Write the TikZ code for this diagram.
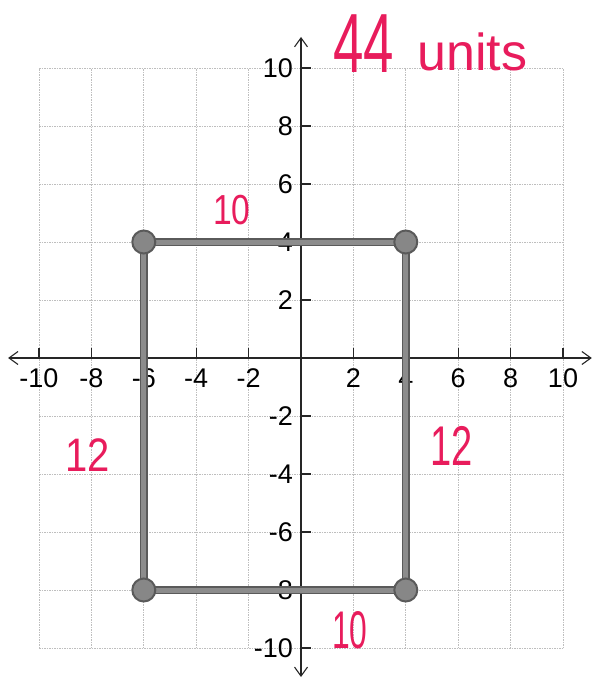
\documentclass[tikz,border=0pt]{standalone}
\usepackage{fontspec}
\setmainfont{Liberation Sans}
\usetikzlibrary{arrows.meta}
\definecolor{pen}{RGB}{232,28,92}
\definecolor{gridgray}{RGB}{190,190,190}
\definecolor{edgedark}{RGB}{90,90,90}
\definecolor{edgelight}{RGB}{140,140,140}
\definecolor{dotfill}{RGB}{135,135,135}
\begin{document}
\begin{tikzpicture}[x=26.2pt,y=29pt,
  gridline/.style={gridgray, line width=0.7pt, dash pattern=on 1.5pt off 1pt},
  axisline/.style={black!85, line width=1.1pt, arrows={Straight Barb[length=9pt,width=13pt]-Straight Barb[length=9pt,width=13pt]}},
  tickmark/.style={black!85, line width=1.1pt},
  xlab/.style={anchor=base, inner sep=0pt, font=\fontsize{27}{27}\selectfont},
  ylab/.style={anchor=east, inner sep=0pt, font=\fontsize{27}{27}\selectfont},
  rectdark/.style={edgedark, line width=8pt, line join=round},
  rectlight/.style={edgelight, line width=5pt, line join=round},
  vertex/.style={circle, fill=dotfill, draw=edgedark, line width=2pt, minimum size=23pt, inner sep=0pt},
  hand/.style={pen, anchor=base west, inner sep=0pt}
]
\useasboundingbox (-11.489,12.345) rectangle (11.107,-11.069);
% grid
\foreach \v in {-10,-8,-6,-4,-2,0,2,4,6,8,10} {
  \draw[gridline] (\v,-10) -- (\v,10);
  \draw[gridline] (-10,\v) -- (10,\v);
}
% axes
\coordinate (xl) at (-11.18,0);
\coordinate (xr) at (11.1,0);
\coordinate (yt) at (0,11.07);
\coordinate (yb) at (0,-11.0);
\draw[axisline] (xl) -- (xr);
\draw[axisline] (yb) -- (yt);
% ticks and labels
\foreach \v in {-10,-8,-6,-4,-2,2,4,6,8,10} {
  \draw[tickmark] (\v,0) -- ++(0,0.35);
  \draw[tickmark] (0,\v) -- ++(0.38,0);
  \node[xlab] (xl\v) at (\v,-1.0) {\v};
  \node[ylab] (yl\v) at (-0.3,\v) {\v};
}
% rectangle
\coordinate (A) at (-6,4);
\coordinate (B) at (4,4);
\coordinate (C) at (4,-8);
\coordinate (D) at (-6,-8);
\draw[rectdark] (A) -- (B) -- (C) -- (D) -- cycle;
\draw[rectlight] (A) -- (B) -- (C) -- (D) -- cycle;
\node[vertex] (va) at (A) {};
\node[vertex] (vb) at (B) {};
\node[vertex] (vc) at (C) {};
\node[vertex] (vd) at (D) {};
% handwritten labels
\node[hand] (h44) at (1.22,9.86) {\scalebox{0.65}[1]{\fontsize{84}{84}\selectfont 44}};
\node[hand] (hunits) at (4.43,9.93) {\fontsize{52}{52}\selectfont units};
\node[hand] (htop) at (-3.36,4.59) {\scalebox{0.8}[1]{\fontsize{42}{42}\selectfont 10}};
\node[hand] (hleft) at (-9.0,-3.93) {\scalebox{0.85}[1]{\fontsize{47}{47}\selectfont 12}};
\node[hand] (hright) at (4.92,-3.69) {\scalebox{0.68}[1]{\fontsize{56}{56}\selectfont 12}};
\node[hand] (hbot) at (1.18,-10.0) {\scalebox{0.6}[1]{\fontsize{53}{53}\selectfont 10}};
\end{tikzpicture}
\end{document}
